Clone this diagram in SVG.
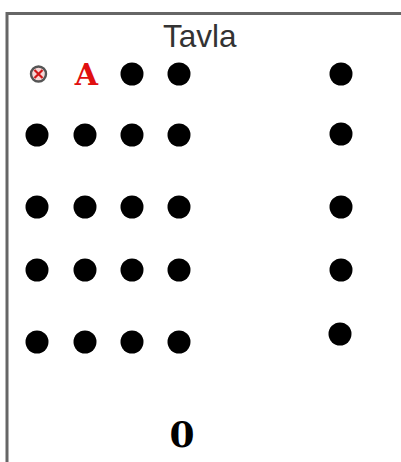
<svg xmlns="http://www.w3.org/2000/svg" width="401" height="462" viewBox="0 0 401 462">
<style>
.dot{fill:#000}
.frame{stroke:#666;stroke-width:3;fill:none}
</style>
<rect x="0" y="0" width="401" height="462" fill="#fff"/>
<g id="frame"><path class="frame" d="M7,462 V13.5 H401"/></g>
<g id="title"><text x="163" y="47" font-family="Liberation Sans, Arial, sans-serif" font-size="31.5" fill="#333">Tavla</text></g>
<g id="marker">
<circle cx="38.5" cy="74" r="7.5" fill="#f6d8d8" stroke="#555" stroke-width="2.4"/>
<path d="M34.5,70 L42.5,78 M42.5,70 L34.5,78" stroke="#d01818" stroke-width="2.2"/>
</g>
<g id="letterA"><text x="86.5" y="85" text-anchor="middle" font-family="DejaVu Serif, serif" font-weight="bold" font-size="30" fill="#e01010">A</text></g>
<g id="dots">
<circle class="dot" cx="132" cy="74" r="11.5"/>
<circle class="dot" cx="179" cy="74" r="11.5"/>
<circle class="dot" cx="341" cy="74" r="11.5"/>
<circle class="dot" cx="37" cy="135" r="11.5"/>
<circle class="dot" cx="85" cy="135" r="11.5"/>
<circle class="dot" cx="132" cy="135" r="11.5"/>
<circle class="dot" cx="179" cy="135" r="11.5"/>
<circle class="dot" cx="341" cy="134" r="11.5"/>
<circle class="dot" cx="37" cy="207" r="11.5"/>
<circle class="dot" cx="85" cy="207" r="11.5"/>
<circle class="dot" cx="132" cy="207" r="11.5"/>
<circle class="dot" cx="179" cy="207" r="11.5"/>
<circle class="dot" cx="341" cy="207" r="11.5"/>
<circle class="dot" cx="37" cy="270" r="11.5"/>
<circle class="dot" cx="85" cy="270" r="11.5"/>
<circle class="dot" cx="132" cy="270" r="11.5"/>
<circle class="dot" cx="179" cy="270" r="11.5"/>
<circle class="dot" cx="341" cy="270" r="11.5"/>
<circle class="dot" cx="37" cy="342" r="11.5"/>
<circle class="dot" cx="85" cy="342" r="11.5"/>
<circle class="dot" cx="132" cy="342" r="11.5"/>
<circle class="dot" cx="179" cy="342" r="11.5"/>
<circle class="dot" cx="340" cy="334" r="11.5"/>
</g>
<g id="zero"><text x="182" y="447" text-anchor="middle" font-family="DejaVu Serif, serif" font-weight="bold" font-size="36" fill="#000">0</text></g>
</svg>
